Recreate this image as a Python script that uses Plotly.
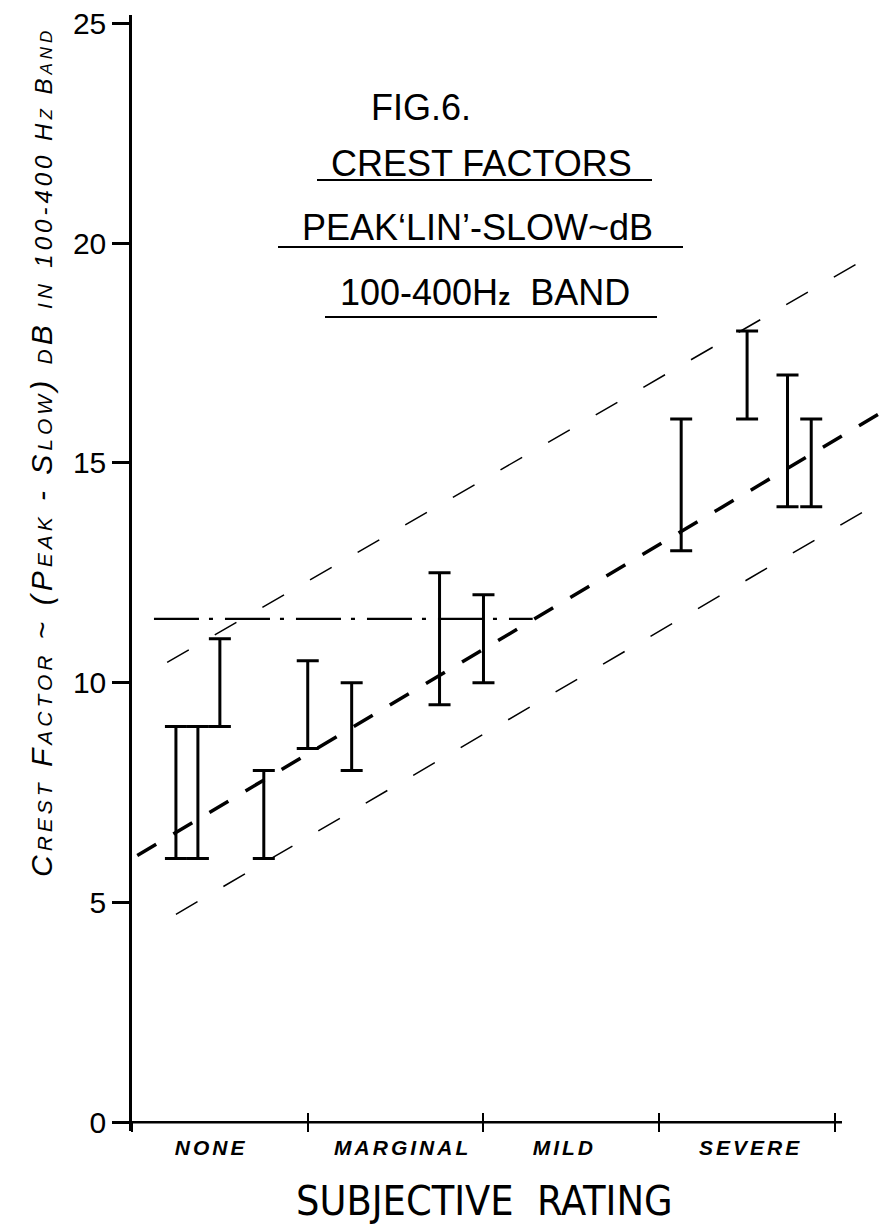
import plotly.graph_objects as go

# ---------------- data ----------------
categories = ["NONE", "MARGINAL", "MILD", "SEVERE"]
category_pos = [0.45, 1.54, 2.46, 3.52]
boundary_ticks = [0, 1, 2, 3, 4]
y_ticks = [0, 5, 10, 15, 20, 25]

bar_x = [0.25, 0.375, 0.5, 0.75, 1.0, 1.25, 1.75, 2.0, 3.125, 3.5, 3.73, 3.865]
bar_low = [6, 6, 9, 6, 8.5, 8, 9.5, 10, 13, 16, 14, 14]
bar_high = [9, 9, 11, 8, 10.5, 10, 12.5, 12, 16, 18, 17, 16]

trend_x = [0.03, 4.26]
trend_y = [6.07, 16.14]
upper_x = [0.2, 4.26]
upper_y = [10.46, 19.84]
lower_x = [0.25, 4.26]
lower_y = [4.73, 14.12]
ref_x = [0.125, 2.28]
ref_y = [11.45, 11.45]
axis_x = [0, 4.04]
axis_y = [0, 0]

# ---------------- layout geometry ----------------
W, H = 881, 1226
ML, MR, MT, MB = 132, 0, 15, 95
X_RANGE = [0, 4.262]
Y_RANGE = [-0.2, 25.19]
PW, PH = W - ML - MR, H - MT - MB


def px(xp):
    return (xp - ML) / PW


def py(yp):
    return (H - MB - yp) / PH


FONT = "Liberation Sans, Arial, sans-serif"
NARROW = "Liberation Sans Narrow, DejaVu Sans Condensed, Liberation Sans, sans-serif"

bar_mid = [(l + h) / 2 for l, h in zip(bar_low, bar_high)]
err_plus = [h - m for h, m in zip(bar_high, bar_mid)]
err_minus = [m - l for m, l in zip(bar_mid, bar_low)]

fig = go.Figure()

fig.add_trace(go.Scatter(x=upper_x, y=upper_y, mode="lines",
                         line=dict(color="black", width=1.5, dash="25px,30px"),
                         showlegend=False, hoverinfo="skip"))
fig.add_trace(go.Scatter(x=lower_x, y=lower_y, mode="lines",
                         line=dict(color="black", width=1.5, dash="25px,30px"),
                         showlegend=False, hoverinfo="skip"))
fig.add_trace(go.Scatter(x=trend_x, y=trend_y, mode="lines",
                         line=dict(color="black", width=3.5, dash="22px,20px"),
                         showlegend=False, hoverinfo="skip"))
fig.add_trace(go.Scatter(x=ref_x, y=ref_y, mode="lines", xaxis="x3",
                         line=dict(color="black", width=2.2, dash="45px,10px,4px,12px"),
                         showlegend=False, hoverinfo="skip"))
fig.add_trace(go.Scatter(x=axis_x, y=axis_y, mode="lines", xaxis="x2",
                         line=dict(color="black", width=2.5),
                         showlegend=False, hoverinfo="skip"))
fig.add_trace(go.Scatter(
    x=bar_x, y=bar_mid, mode="markers",
    marker=dict(size=1, color="rgba(0,0,0,0)"),
    error_y=dict(type="data", symmetric=False, array=err_plus, arrayminus=err_minus,
                 color="black", thickness=3, width=11),
    showlegend=False, hoverinfo="skip"))

pos0 = (0 - Y_RANGE[0]) / (Y_RANGE[1] - Y_RANGE[0])

common_x = dict(range=X_RANGE, showgrid=False, zeroline=False, showline=False,
                fixedrange=True)

spaced_categories = ["<span style='letter-spacing:3px'>%s</span>" % c for c in categories]

fig.update_layout(
    width=W, height=H,
    margin=dict(l=ML, r=MR, t=MT, b=MB, pad=0),
    paper_bgcolor="white", plot_bgcolor="white",
    showlegend=False,
    xaxis=dict(**common_x, anchor="free", position=pos0,
               tickmode="array", tickvals=category_pos, ticktext=spaced_categories,
               ticks="", ticklabelstandoff=11,
               tickfont=dict(family=FONT, size=21, color="black",
                             weight="bold", style="italic")),
    xaxis2=dict(**common_x, overlaying="x", anchor="free", position=pos0,
                tickmode="array", tickvals=boundary_ticks, ticks="outside",
                ticklen=9, tickwidth=2, tickcolor="black", showticklabels=False),
    xaxis3=dict(**common_x, overlaying="x", anchor="free", position=pos0,
                tickmode="array", tickvals=boundary_ticks, ticks="inside",
                ticklen=9, tickwidth=2, tickcolor="black", showticklabels=False),
    yaxis=dict(range=Y_RANGE, showgrid=False, zeroline=False, showline=True,
               linecolor="black", linewidth=2.5, ticks="outside", ticklen=17,
               tickwidth=2.5, tickcolor="black", tickmode="array", tickvals=y_ticks,
               tickfont=dict(family=FONT, size=30, color="black"), fixedrange=True),
)

annos = [
    dict(text="FIG.6.", x=px(421), y=py(107), size=36),
    dict(text="CREST FACTORS", x=px(481), y=py(163), size=36),
    dict(text="PEAK\u2018LIN\u2019-SLOW~dB", x=px(477), y=py(227), size=36),
    dict(text="100-400H<span style='font-size:24px'><b>z</b></span>  BAND",
         x=px(485), y=py(293), size=36),
]
for a in annos:
    fig.add_annotation(text=a["text"], x=a["x"], y=a["y"], xref="paper", yref="paper",
                       xanchor="center", yanchor="middle", showarrow=False,
                       font=dict(family=FONT, size=a["size"], color="black"))

underlines = [(317, 652, 180), (278, 683, 247), (325, 657, 317)]
for x0, x1, yy in underlines:
    fig.add_shape(type="line", xref="paper", yref="paper",
                  x0=px(x0), x1=px(x1), y0=py(yy), y1=py(yy),
                  line=dict(color="black", width=2))

fig.add_annotation(
    text="SUBJECTIVE  RATING", x=px(484), y=py(1201), xref="paper", yref="paper",
    xanchor="center", yanchor="middle", showarrow=False,
    font=dict(family=NARROW, size=41, color="black"))

fig.add_annotation(
    text="<span style='letter-spacing:4px'>Crest Factor ~ (Peak - Slow) dB in </span>"
         "<span style='font-size:24px;letter-spacing:4px'>100-400 Hz Band</span>",
    x=px(42), y=py(452), xref="paper", yref="paper", textangle=-90,
    xanchor="center", yanchor="middle", showarrow=False,
    font=dict(family=FONT, size=30, color="black", style="italic", variant="small-caps"))

fig.write_html("out.html")
